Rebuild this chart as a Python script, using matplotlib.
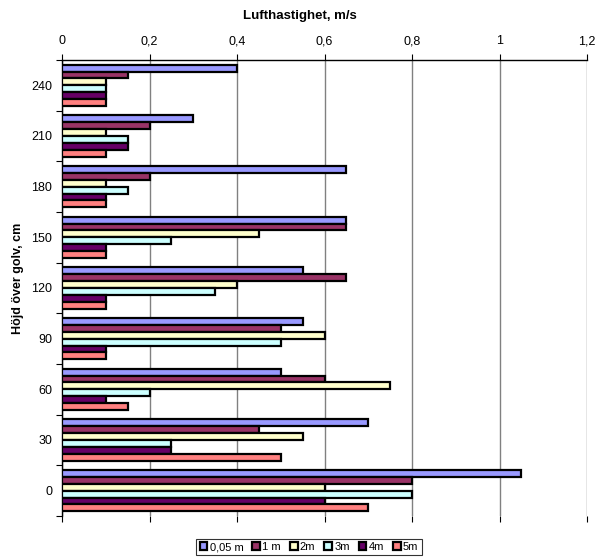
import matplotlib
matplotlib.use("Agg")
import matplotlib.pyplot as plt
import numpy as np

plt.rcParams['font.family'] = ['Liberation Sans', 'DejaVu Sans']

heights = [0, 30, 60, 90, 120, 150, 180, 210, 240]
series = ["0,05 m", "1 m", "2m", "3m", "4m", "5m"]
colors = ["#9999FF", "#993366", "#FFFFCC", "#CCFFFF", "#660066", "#FF8080"]

v_005 = [1.05, 0.70, 0.50, 0.55, 0.55, 0.65, 0.65, 0.30, 0.40]
v_1 = [0.80, 0.45, 0.60, 0.50, 0.65, 0.65, 0.20, 0.20, 0.15]
v_2 = [0.60, 0.55, 0.75, 0.60, 0.40, 0.45, 0.10, 0.10, 0.10]
v_3 = [0.80, 0.25, 0.20, 0.50, 0.35, 0.25, 0.15, 0.15, 0.10]
v_4 = [0.60, 0.25, 0.10, 0.10, 0.10, 0.10, 0.10, 0.15, 0.10]
v_5 = [0.70, 0.50, 0.15, 0.10, 0.10, 0.10, 0.10, 0.10, 0.10]
values = [v_005, v_1, v_2, v_3, v_4, v_5]

xticks = [0, 0.2, 0.4, 0.6, 0.8, 1.0, 1.2]
xticklabels = ["0", "0,2", "0,4", "0,6", "0,8", "1", "1,2"]

fig = plt.figure(figsize=(5.98, 5.58), dpi=100)
ax = fig.add_axes([62 / 598, 1 - 516 / 558, 525 / 598, 456 / 558])

pos = np.arange(len(heights))
bh = 0.135
for i, (name, vals, c) in enumerate(zip(series, values, colors)):
    ax.barh(pos - (i - 2.5) * bh, vals, height=bh, color=c,
            edgecolor="black", linewidth=1.6, label=name, zorder=3)

ax.set_xlim(0, 1.2)
ax.set_ylim(-0.5, len(heights) - 0.5)

ax.set_xticks(xticks)
ax.set_xticklabels(xticklabels, fontsize=9)
ax.tick_params(axis="x", top=True, bottom=False, labeltop=True, labelbottom=False,
               direction="out", length=3, width=0.8, pad=5)
ax.tick_params(axis="x", bottom=True, length=4)
ax.tick_params(axis="x", top=True, labeltop=True, labelbottom=False)
ax.grid(axis="x", color="#808080", linewidth=1.0, zorder=0)

ax.set_yticks(pos)
ax.set_yticklabels([str(h) for h in heights], fontsize=9)
ax.set_yticks(np.arange(-0.5, len(heights), 1.0), minor=True)
ax.tick_params(axis="y", which="major", length=0, pad=7)
ax.tick_params(axis="y", which="minor", length=4, width=0.8, direction="out")

for s in ["right", "bottom"]:
    ax.spines[s].set_visible(False)
for s in ["top", "left"]:
    ax.spines[s].set_linewidth(1.0)

fig.text(300 / 598, 1 - 16 / 558, "Lufthastighet, m/s", ha="center", va="center",
         fontsize=9.5, fontweight="bold")
fig.text(18 / 598, 1 - 278 / 558, "Höjd över golv, cm", ha="center", va="center",
         rotation=90, fontsize=9, fontweight="bold")

leg = fig.legend(loc="center", bbox_to_anchor=(309 / 598, 1 - 547 / 558), ncol=6,
                 fontsize=8, frameon=True, fancybox=False, edgecolor="black",
                 handlelength=0.7, handleheight=0.7, handletextpad=0.2,
                 columnspacing=0.8, borderpad=0.3, borderaxespad=0)
leg.get_frame().set_linewidth(0.8)

fig.savefig("out.png", dpi=100)
